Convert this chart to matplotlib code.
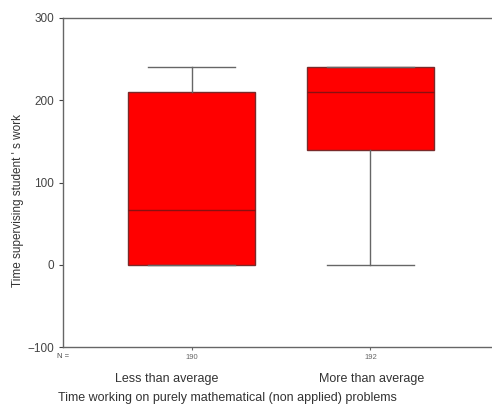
import matplotlib.pyplot as plt

categories = ['Less than average', 'More than average']
n_counts = ['190', '192']
whislo = [0, 0]
q1 = [0, 140]
med = [67, 210]
q3 = [210, 240]
whishi = [240, 240]

plt.rcParams['font.family'] = ['Liberation Sans', 'DejaVu Sans']

fig = plt.figure(figsize=(4.92, 4.05), dpi=100)
ax = fig.add_axes([63 / 492, 1 - 347 / 405, 1 - 63 / 492, 329 / 405])

stats = []
for i in range(len(categories)):
    stats.append({'whislo': whislo[i], 'q1': q1[i], 'med': med[i],
                  'q3': q3[i], 'whishi': whishi[i], 'fliers': []})

gray = '#666666'
ax.bxp(stats, positions=[1, 2], widths=0.71, patch_artist=True,
       showfliers=False,
       boxprops=dict(facecolor='#ff0000', edgecolor='#7a2a2a', linewidth=1),
       medianprops=dict(color='#8a1010', linewidth=1),
       whiskerprops=dict(color=gray, linewidth=1),
       capprops=dict(color=gray, linewidth=1),
       capwidths=0.49)

ax.set_xlim(0.28, 2.68)
ax.set_ylim(-100, 300)
ax.set_yticks([-100, 0, 100, 200, 300])
ax.tick_params(axis='y', labelsize=8.5, colors='#444444', length=3, width=0.8)
ax.tick_params(axis='x', length=2, width=0.8, colors=gray, labelsize=5.5, pad=3)
ax.set_xticks([1, 2])
ax.set_xticklabels(n_counts)
ax.spines['right'].set_visible(False)
for s in ['left', 'top', 'bottom']:
    ax.spines[s].set_color(gray)
    ax.spines[s].set_linewidth(1)

fig.text(63 / 492, 1 - 356 / 405, 'N =', fontsize=5.5,
         color='#444444', ha='center', va='center')
# category names sit a bit left of the boxes in the original
for c, xc in zip(categories, [167, 372]):
    fig.text(xc / 492, 1 - 379 / 405, c, fontsize=9,
             color='#333333', ha='center', va='center')

fig.text(58 / 492, 1 - 398 / 405,
         'Time working on purely mathematical (non applied) problems',
         fontsize=9, color='#333333', ha='left', va='center')
ax.set_ylabel("Time supervising student ' s work", fontsize=8.5, color='#333333')
ax.yaxis.set_label_coords(-0.091, 0.444)

fig.savefig('out.png', dpi=100)
